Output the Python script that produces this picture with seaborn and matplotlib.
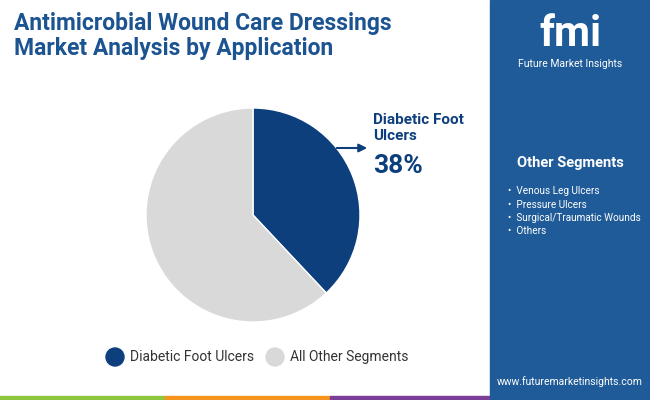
import matplotlib
matplotlib.use("Agg")
import matplotlib.pyplot as plt
import seaborn as sns
from matplotlib.patches import Rectangle, Ellipse

categories = ["Diabetic Foot Ulcers", "All Other Segments"]
values = [38, 62]
other_segments = ["Venous Leg Ulcers", "Pressure Ulcers", "Surgical/Traumatic Wounds", "Others"]
colors = ["#0d3f7d", "#d9d9d9"]

sns.set_theme(style="white")
plt.rcParams["font.family"] = "Roboto"
fig = plt.figure(figsize=(6.5, 4), dpi=100)
W, H = 650, 400
def fx(x): return x / W
def fy(y): return 1 - y / H

fig.patches.append(Rectangle((fx(490), 0), fx(160), 1, transform=fig.transFigure, color="#1f5b98", zorder=0))
for x0, x1, c in [(0, 165, "#8dc63f"), (165, 330, "#f7941d"), (330, 490, "#7b3f98"), (490, 650, "#1f5b98")]:
    fig.patches.append(Rectangle((fx(x0), 0), fx(x1 - x0), 4 / H, transform=fig.transFigure, color=c, zorder=1))

fig.text(fx(14), fy(36), "Antimicrobial Wound Care Dressings\nMarket Analysis by Application",
         fontsize=16.5, fontweight="bold", color="#1c5491", va="center", linespacing=1.15)

ax = fig.add_axes([fx(146), fy(322), fx(214), 214 / H])
ax.pie(values, colors=colors, startangle=90, counterclock=False, radius=1)
ax.set_xlim(-1.0, 1.0)
ax.set_ylim(-1.0, 1.0)
ax.set_aspect("equal")

fig.text(fx(373), fy(128), "Diabetic Foot\nUlcers", fontsize=11, fontweight="bold", color="#0d3f7d",
         va="center", linespacing=1.2)
fig.text(fx(373), fy(166), "38%", fontsize=19, fontweight="bold", color="#0d3f7d", va="center")
ax.annotate("", xy=(fx(370), fy(148)), xytext=(fx(334), fy(148)), xycoords="figure fraction",
            textcoords="figure fraction", arrowprops=dict(arrowstyle="-|>", color="#0d3f7d", lw=1.5))

for cx, c, lab in [(115, colors[0], categories[0]), (275, colors[1], categories[1])]:
    fig.patches.append(Ellipse((fx(cx), fy(357)), 18 / W, 18 / H, transform=fig.transFigure, color=c, zorder=2))
    fig.text(fx(cx + 15), fy(357), lab, fontsize=10, color="#333333", va="center")

fig.text(fx(570), fy(35), "fmi", fontsize=30, fontweight="bold", color="white", ha="center", va="center")
fig.text(fx(570), fy(64), "Future Market Insights", fontsize=7.5, color="white", ha="center", va="center")
fig.text(fx(570), fy(163), "Other Segments", fontsize=10.5, fontweight="bold", color="white", ha="center", va="center")
for i, s in enumerate(other_segments):
    fig.text(fx(508), fy(191 + i * 13.5), "•  " + s, fontsize=7.2, color="white", va="center")
fig.text(fx(570), fy(382), "www.futuremarketinsights.com", fontsize=7.5, color="white", ha="center", va="center")

fig.savefig("out.png", dpi=100)
